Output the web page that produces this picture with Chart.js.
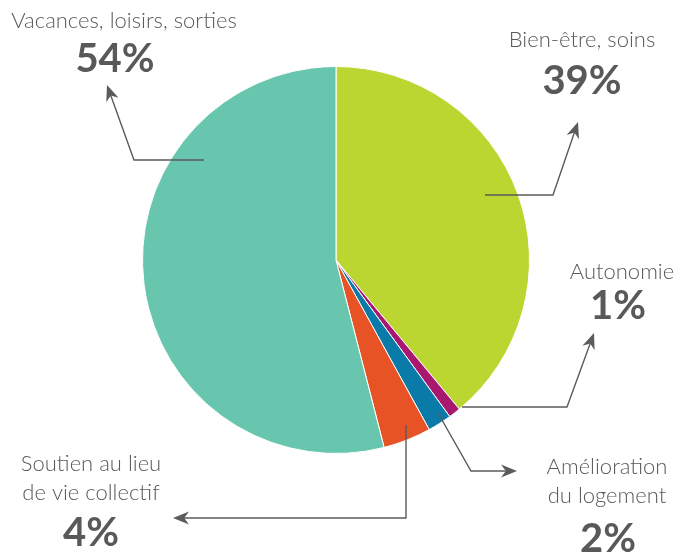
<!DOCTYPE html>
<html>
<head>
<meta charset="utf-8">
<script src="https://cdn.jsdelivr.net/npm/chart.js@4/dist/chart.umd.min.js"></script>
<style>
  html, body { margin: 0; padding: 0; background: #fff; }
  #wrap { width: 676px; height: 554px; }
</style>
</head>
<body>
<div id="wrap"><canvas id="pieChart" width="676" height="554"></canvas></div>
<script>
// data, clockwise from 12 o'clock
var categories = ["Bien-être, soins", "Autonomie", "Amélioration du logement", "Soutien au lieu de vie collectif", "Vacances, loisirs, sorties"];
var values = [39, 1, 2, 4, 54];
var colors = ["#BBD531", "#A8186E", "#0A7BA8", "#E85325", "#68C6AF"];

var textColor = "#58595B";
var lineColor = "#5A5B5D";

// label blocks + leader lines (annotation layout)
var callouts = [
  { idx: 4, lines: ["Vacances, loisirs, sorties"], x: 124, y: 28, pctX: 115, pctY: 72,
    path: [[204, 160], [134, 160], [107, 85]] },
  { idx: 0, lines: ["Bien-être, soins"], x: 582, y: 47, pctX: 582, pctY: 94,
    path: [[485, 195], [553, 195], [578, 122]] },
  { idx: 1, lines: ["Autonomie"], x: 622, y: 279, pctX: 618, pctY: 319,
    path: [[462, 407], [567, 407], [594, 333]] },
  { idx: 2, lines: ["Amélioration", "du logement"], x: 607, y: 474, pctX: 608, pctY: 552,
    path: [[438, 413], [471, 471], [517, 471]] },
  { idx: 3, lines: ["Soutien au lieu", "de vie collectif"], x: 91, y: 471, pctX: 91, pctY: 546,
    path: [[406, 425], [406, 518], [173, 518]] }
];

function arrowHead(ctx, from, to) {
  var ang = Math.atan2(to[1] - from[1], to[0] - from[0]);
  var len = 16, wid = 6.5;
  ctx.save();
  ctx.translate(to[0], to[1]);
  ctx.rotate(ang);
  ctx.beginPath();
  ctx.moveTo(0, 0);
  ctx.lineTo(-len, -wid);
  ctx.lineTo(-len * 0.7, 0);
  ctx.lineTo(-len, wid);
  ctx.closePath();
  ctx.fillStyle = lineColor;
  ctx.fill();
  ctx.restore();
}

var calloutPlugin = {
  id: "callouts",
  afterDraw: function(chart) {
    var ctx = chart.ctx;
    ctx.save();
    callouts.forEach(function(c) {
      // leader line
      ctx.strokeStyle = lineColor;
      ctx.lineWidth = 1.4;
      ctx.beginPath();
      var p = c.path;
      var n = p.length;
      ctx.moveTo(p[0][0], p[0][1]);
      for (var i = 1; i < n - 1; i++) ctx.lineTo(p[i][0], p[i][1]);
      var a = p[n - 2], b = p[n - 1];
      var d = Math.hypot(b[0] - a[0], b[1] - a[1]);
      var k = (d - 8) / d;
      ctx.lineTo(a[0] + (b[0] - a[0]) * k, a[1] + (b[1] - a[1]) * k);
      ctx.stroke();
      arrowHead(ctx, a, b);

      // text
      ctx.fillStyle = textColor;
      ctx.textAlign = "center";
      ctx.textBaseline = "alphabetic";
      ctx.font = "300 22px Lato";
      c.lines.forEach(function(t, j) {
        ctx.fillText(t, c.x, c.y + j * 29);
      });
      ctx.font = "bold 40px Lato";
      ctx.fillText(values[c.idx] + "%", c.pctX, c.pctY);
    });
    ctx.restore();
  }
};

new Chart(document.getElementById("pieChart"), {
  type: "pie",
  data: {
    labels: categories,
    datasets: [{
      data: values,
      backgroundColor: colors,
      borderColor: "#ffffff",
      borderWidth: 1,
      hoverOffset: 0
    }]
  },
  options: {
    responsive: false,
    animation: false,
    layout: { padding: { top: 66, bottom: 100, left: 142, right: 146 } },
    plugins: {
      legend: { display: false },
      tooltip: { enabled: false }
    }
  },
  plugins: [calloutPlugin]
});
</script>
</body>
</html>
